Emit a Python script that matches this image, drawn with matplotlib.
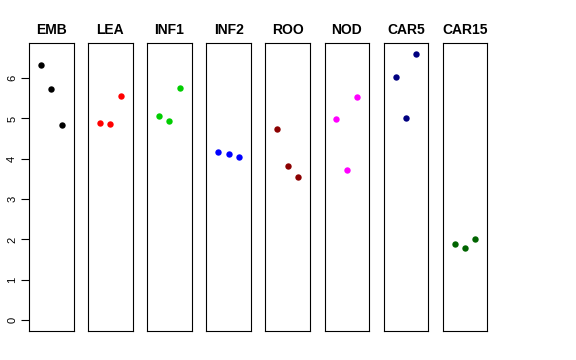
import matplotlib
matplotlib.use("Agg")
import matplotlib.pyplot as plt

plt.rcParams['font.family'] = ['Liberation Sans', 'DejaVu Sans']

tissues = ["EMB", "LEA", "INF1", "INF2", "ROO", "NOD", "CAR5", "CAR15"]
colors = ["#000000", "#FF0000", "#00CD00", "#0000FF", "#8B0000", "#FF00FF", "#000080", "#006400"]
values = {
    "EMB":   [6.33, 5.73, 4.83],
    "LEA":   [4.88, 4.87, 5.56],
    "INF1":  [5.07, 4.93, 5.76],
    "INF2":  [4.16, 4.11, 4.05],
    "ROO":   [4.74, 3.82, 3.55],
    "NOD":   [4.98, 3.73, 5.54],
    "CAR5":  [6.02, 5.02, 6.61],
    "CAR15": [1.88, 1.78, 2.01],
}
reps = [1, 2, 3]
yticks = [0, 1, 2, 3, 4, 5, 6]

W, H = 576, 360
fig = plt.figure(figsize=(W / 100, H / 100), dpi=100)

ymin, ymax = 0, 6.6
ypad = 0.04 * (ymax - ymin)
xmin, xmax = 0, 4
xpad = 0.04 * (xmax - xmin)

left0 = 29.0
pw = 44.5
step = 59.1
top = 43.3
bot = 330.7

for i, (t, c) in enumerate(zip(tissues, colors)):
    x0 = left0 + i * step
    ax = fig.add_axes([x0 / W, 1 - bot / H, pw / W, (bot - top) / H])
    ax.plot(reps, values[t], 'o', color=c, markersize=4.6, markeredgewidth=0)
    ax.set_xlim(xmin - xpad, xmax + xpad)
    ax.set_ylim(ymin - ypad, ymax + ypad)
    ax.set_xticks([])
    for s in ax.spines.values():
        s.set_linewidth(0.8)
        s.set_color("#000000")
    ax.text(0.5, 1.0 + 13.5 / (bot - top), t, transform=ax.transAxes, ha='center', va='center',
            fontsize=10, fontweight='bold')
    if i == 0:
        ax.set_yticks(yticks)
        ax.set_yticklabels([str(v) for v in yticks], rotation=90, va='center', fontsize=8)
        ax.tick_params(axis='y', length=5.5, width=0.8, pad=3)
    else:
        ax.set_yticks([])

fig.savefig("out.png", dpi=100)
